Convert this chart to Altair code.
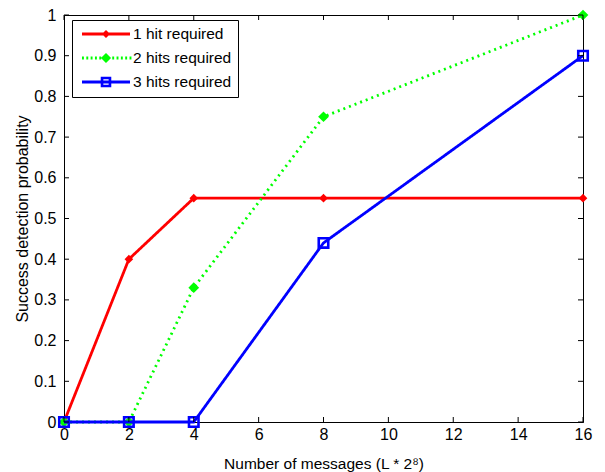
import altair as alt
import pandas as pd

# ---- data ----
series = ["1 hit required", "2 hits required", "3 hits required"]
x_vals = [0, 2, 4, 8, 16]
hit1 = [0.0, 0.40, 0.55, 0.55, 0.55]
hit2 = [0.0, 0.0, 0.33, 0.75, 1.00]
hit3 = [0.0, 0.0, 0.0, 0.44, 0.90]

x_ticks = [0, 2, 4, 6, 8, 10, 12, 14, 16]
y_ticks = [0, 0.1, 0.2, 0.3, 0.4, 0.5, 0.6, 0.7, 0.8, 0.9, 1]

colors = ["#ff0000", "#00ff00", "#0000ff"]
dashes = [[1, 0], [2, 4], [1, 0]]


# ---- legend symbol shapes (unit paths, line segment + marker) ----
def seg(a, b, h=0.06):
    return f"M{a},{-h}L{b},{-h}L{b},{h}L{a},{h}Z"


solid = seg(-1, 1)
dotted = "".join(seg(-1 + k * 0.18, -1 + k * 0.18 + 0.08) for k in range(12))
legend_paths = [
    solid + "M0,-0.17L0.17,0L0,0.17L-0.17,0Z",
    dotted + "M0,-0.21L0.21,0L0,0.21L-0.21,0Z",
    solid + "M-0.22,-0.22L0.22,-0.22L0.22,0.22L-0.22,0.22Z"
    "M-0.11,-0.11L-0.11,0.11L0.11,0.11L0.11,-0.11Z",
]

rows = []
for name, vals in zip(series, [hit1, hit2, hit3]):
    for xv, yv in zip(x_vals, vals):
        rows.append({"series": name, "x": xv, "y": yv})
df = pd.DataFrame(rows)
xt = pd.DataFrame({"t": x_ticks})
yt = pd.DataFrame({"t": y_ticks})

W, H = 519, 407
FONT = "Liberation Sans"

xscale = alt.Scale(domain=[0, 16], nice=False, zero=False)
yscale = alt.Scale(domain=[0, 1], nice=False, zero=False)
cscale = alt.Scale(domain=series, range=colors)
sscale = alt.Scale(domain=series, range=legend_paths)

common = dict(
    grid=False, ticks=False, labelFlush=False, labelFontSize=16, titleFontWeight="normal",
    labelFont=FONT, titleFont=FONT, labelColor="black", titleColor="black",
    domainColor="black", titleBaseline="alphabetic",
)
x_axis = alt.Axis(
    values=x_ticks, title="Number of messages (L * 2⁸)", labelPadding=4,
    titleFontSize=15.5, titleX=W / 2, titleY=46, **common,
)
y_axis = alt.Axis(
    values=y_ticks, format="~g", title="Success detection probability", labelPadding=8,
    titleFontSize=16, titleX=-37, titleY=H / 2, titleAngle=270, titleAlign="center",
    **common,
)

X = lambda f="x": alt.X(f"{f}:Q", scale=xscale, axis=x_axis)
Y = lambda f="y": alt.Y(f"{f}:Q", scale=yscale, axis=y_axis)

base = alt.Chart(df)


def line(i):
    return base.transform_filter(alt.datum.series == series[i]).mark_line(
        strokeWidth=2.8, color=colors[i], strokeDash=dashes[i]
    ).encode(x=X(), y=Y())


def marker(i, **kw):
    return base.transform_filter(alt.datum.series == series[i]).mark_point(
        opacity=1, color=colors[i], **kw
    ).encode(x=X(), y=Y())


m1 = marker(0, shape="diamond", filled=True, size=75)
m2 = marker(1, shape="diamond", filled=True, size=115)
m3 = marker(2, shape="square", filled=False, size=90, strokeWidth=2.6)


def leg():
    return alt.Legend(
        title=None, orient="none", legendX=8, legendY=5, direction="vertical",
        padding=6, strokeColor="black", fillColor="white",
        symbolSize=2304, symbolStrokeWidth=0, symbolOffset=4, clipHeight=16,
        labelFont=FONT, labelFontSize=15.5, labelOffset=3, labelColor="black",
        rowPadding=7, labelExpr="datum.label + '   '",
    )


legend_layer = base.transform_filter("false").mark_point(
    opacity=1, filled=True, strokeWidth=0
).encode(
    x=X(), y=Y(),
    color=alt.Color("series:N", scale=cscale, legend=leg()),
    shape=alt.Shape("series:N", scale=sscale, legend=leg()),
)


def xrule(y0, y1):
    return alt.Chart(xt).mark_rule(color="black", strokeWidth=1).encode(
        x=X("t"), y=alt.value(y0), y2=alt.value(y1)
    )


def yrule(x0, x1):
    return alt.Chart(yt).mark_rule(color="black", strokeWidth=1).encode(
        y=Y("t"), x=alt.value(x0), x2=alt.value(x1)
    )


chart = alt.layer(
    line(0), m1, line(1), m2, line(2), m3,
    xrule(H, H - 5), xrule(0, 5), yrule(0, 5), yrule(W, W - 5),
    legend_layer,
).properties(
    width=W, height=H, autosize=alt.AutoSizeParams(type="none"),
    padding={"left": 56, "top": 7, "right": 14, "bottom": 50},
    background="white",
).configure_view(
    stroke="black", strokeWidth=1
)

chart.save("out.html", embed_options={"renderer": "svg", "actions": False})
